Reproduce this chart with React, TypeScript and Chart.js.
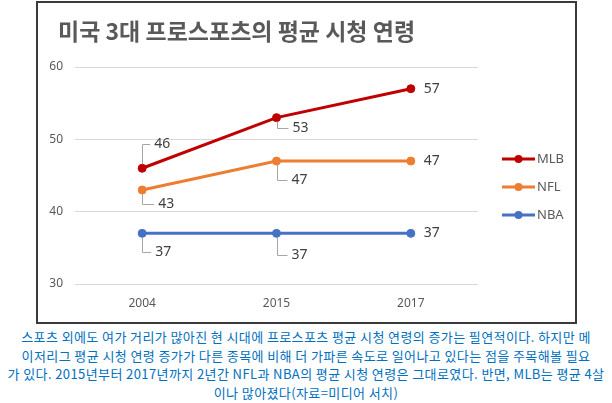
import React, { useEffect, useRef } from "react";
import { Chart, registerables } from "chart.js";

Chart.register(...registerables);

const TITLE = "미국 3대 프로스포츠의 평균 시청 연령";
const YEARS = ["2004", "2015", "2017"];
const SERIES_NAMES = ["MLB", "NFL", "NBA"];
const MLB = [46, 53, 57];
const NFL = [43, 47, 47];
const NBA = [37, 37, 37];
const Y_TICKS = [30, 40, 50, 60];
const CAPTION_LINES = [
  "스포츠 외에도 여가 거리가 많아진 현 시대에 프로스포츠 평균 시청 연령의 증가는 필연적이다. 하지만 메",
  "이저리그 평균 시청 연령 증가가 다른 종목에 비해 더 가파른 속도로 일어나고 있다는 점을 주목해볼 필요",
  "가 있다. 2015년부터 2017년까지 2년간 NFL과 NBA의 평균 시청 연령은 그대로였다. 반면, MLB는 평균 4살",
  "이나 많아졌다(자료=미디어 서치)",
];

const COLORS = ["#C00000", "#ED7D31", "#4472C4"];
// label offsets relative to each point: [dx to label left, dy to label centre]
const LABEL_OFFSETS = [
  [[12, -24], [16, 10], [13, 0]],
  [[16, 14], [15, 19], [13, 0]],
  [[13, 19], [15, 22], [13, 0]],
];

const GRAY_TEXT = "#595959";
const FONT = "'Noto Sans', 'DejaVu Sans', sans-serif";

const titlePlugin = {
  id: "customTitle",
  afterDraw(chart: any) {
    const { ctx, chartArea } = chart;
    ctx.save();
    ctx.font = "bold 23px 'Noto Sans CJK KR', sans-serif";
    ctx.fillStyle = GRAY_TEXT;
    ctx.textAlign = "left";
    ctx.textBaseline = "middle";
    ctx.fillText(TITLE, chartArea.left - 17, 28);
    ctx.restore();
  },
};

const legendPlugin = {
  id: "customLegend",
  afterDraw(chart: any) {
    const { ctx, chartArea } = chart;
    ctx.save();
    chart.data.datasets.forEach((ds: any, i: number) => {
      const y = chartArea.top + 92 + i * 28;
      const x0 = chartArea.right + 24;
      const x1 = x0 + 33;
      ctx.strokeStyle = ds.borderColor;
      ctx.lineWidth = 3;
      ctx.beginPath();
      ctx.moveTo(x0, y);
      ctx.lineTo(x1, y);
      ctx.stroke();
      ctx.fillStyle = ds.borderColor;
      ctx.beginPath();
      ctx.arc((x0 + x1) / 2, y, 4, 0, Math.PI * 2);
      ctx.fill();
      ctx.font = `13px ${FONT}`;
      ctx.fillStyle = GRAY_TEXT;
      ctx.textAlign = "left";
      ctx.textBaseline = "middle";
      ctx.fillText(ds.label, x1 + 2, y);
    });
    ctx.restore();
  },
};

const dataLabelPlugin = {
  id: "dataLabels",
  afterDatasetsDraw(chart: any) {
    const { ctx } = chart;
    ctx.save();
    chart.data.datasets.forEach((ds: any, i: number) => {
      const meta = chart.getDatasetMeta(i);
      meta.data.forEach((pt: any, j: number) => {
        const [dx, dy] = LABEL_OFFSETS[i][j];
        const x = pt.x;
        const y = pt.y;
        if (dy !== 0) {
          ctx.strokeStyle = "#A6A6A6";
          ctx.lineWidth = 1;
          ctx.beginPath();
          const sy = y + (dy > 0 ? 4 : -4);
          ctx.moveTo(Math.round(x) + 0.5, sy);
          ctx.lineTo(Math.round(x) + 0.5, Math.round(y + dy) + 0.5);
          ctx.lineTo(x + dx - 4, Math.round(y + dy) + 0.5);
          ctx.stroke();
        }
        ctx.font = `14px ${FONT}`;
        ctx.fillStyle = "#404040";
        ctx.textAlign = "left";
        ctx.textBaseline = "middle";
        ctx.fillText(String(ds.data[j]), x + dx, y + dy);
      });
    });
    ctx.restore();
  },
};

function ChartBox() {
  const ref = useRef<HTMLCanvasElement | null>(null);
  useEffect(() => {
    if (!ref.current) return;
    const seriesValues = [MLB, NFL, NBA];
    const chart = new Chart(ref.current, {
      type: "line",
      data: {
        labels: YEARS,
        datasets: SERIES_NAMES.map((name, i) => ({
          label: name,
          data: seriesValues[i],
          borderColor: COLORS[i],
          backgroundColor: COLORS[i],
          pointBackgroundColor: COLORS[i],
          pointBorderColor: COLORS[i],
          pointRadius: 4,
          pointBorderWidth: 1,
          borderWidth: 3,
          tension: 0,
          fill: false,
        })),
      },
      options: {
        animation: false,
        responsive: false,
        maintainAspectRatio: false,
        layout: { padding: { top: 64, right: 97, left: 0, bottom: 0 } },
        plugins: {
          legend: { display: false },
          title: { display: false },
          tooltip: { enabled: false },
        },
        scales: {
          x: {
            type: "category",
            offset: true,
            grid: { display: false, drawTicks: false },
            border: { display: false },
            ticks: { color: GRAY_TEXT, font: { size: 12, family: FONT }, padding: 12 },
            afterFit: (s: any) => {
              s.height = 38;
            },
          },
          y: {
            min: 30,
            max: 60,
            grid: { color: "#D9D9D9", drawTicks: false, lineWidth: 1 },
            border: { display: false },
            ticks: { color: GRAY_TEXT, font: { size: 12, family: FONT }, padding: 12 },
            afterBuildTicks: (s: any) => {
              s.ticks = Y_TICKS.map((v) => ({ value: v }));
            },
            afterFit: (s: any) => {
              s.width = 37;
            },
          },
        },
      },
      plugins: [titlePlugin, legendPlugin, dataLabelPlugin],
    } as any);
    return () => chart.destroy();
  }, []);
  return <canvas ref={ref} width={537} height={319} style={{ display: "block", width: 537, height: 319 }} />;
}

export default function App() {
  return (
    <div style={{ position: "absolute", left: 0, top: 0, width: 612, height: 403, background: "#fff" }}>
      <div
        style={{
          position: "absolute",
          left: 36,
          top: 1,
          width: 541,
          height: 323,
          boxSizing: "border-box",
          border: "2px solid #3a3a3a",
          background: "#fff",
        }}
      >
        <ChartBox />
      </div>
      <div
        style={{
          position: "absolute",
          left: 0,
          top: 328,
          width: 612,
          textAlign: "center",
          color: "#0070C0",
          fontFamily: "'Noto Sans CJK KR', sans-serif",
          fontSize: 13,
          letterSpacing: "0.4px",
          lineHeight: "18.7px",
          whiteSpace: "nowrap",
        }}
      >
        {CAPTION_LINES.map((l, i) => (
          <div key={i}>{l}</div>
        ))}
      </div>
    </div>
  );
}
